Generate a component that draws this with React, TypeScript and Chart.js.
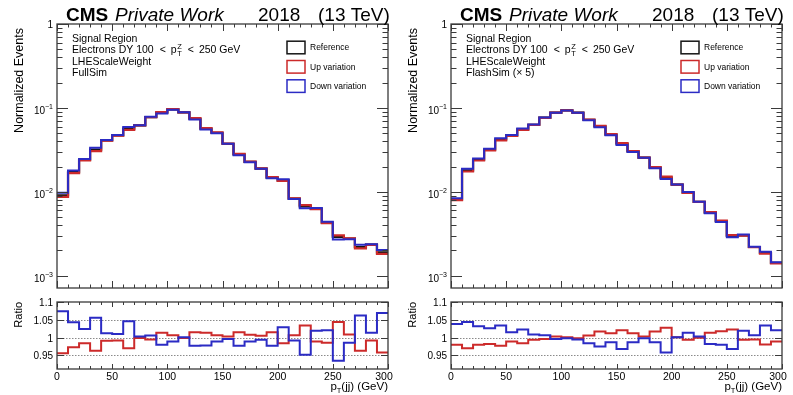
import React, { useEffect, useRef } from 'react';
import { Chart, registerables } from 'chart.js';

Chart.register(...registerables);

// ---------------- DATA ----------------
const binEdges = [0, 10, 20, 30, 40, 50, 60, 70, 80, 90, 100, 110, 120, 130, 140, 150, 160, 170, 180, 190, 200, 210, 220, 230, 240, 250, 260, 270, 280, 290, 300];
const xTickLabels = ['0', '50', '100', '150', '200', '250', '300'];
const xTickValues = [0, 50, 100, 150, 200, 250, 300];
const ratioTickLabels = ['0.95', '1', '1.05', '1.1'];
const ratioTickValues = [0.95, 1, 1.05, 1.1];
const ratioGridValues = [0.95, 1, 1.05];
const logDecades = [-3, -2, -1, 0];

// FullSim (left)
const fullRef = [0.0091, 0.0172, 0.0241, 0.0318, 0.041, 0.047, 0.0565, 0.062, 0.0778, 0.0877, 0.096, 0.0884, 0.0743, 0.0565, 0.0506, 0.0374, 0.0279, 0.0227, 0.0189, 0.0148, 0.0137, 0.0083, 0.0067, 0.0063, 0.0043, 0.0029, 0.00277, 0.0022, 0.00235, 0.0019];
const fullUp = [0.0087, 0.0167, 0.0237, 0.0306, 0.0406, 0.0466, 0.0548, 0.0619, 0.0774, 0.0889, 0.0967, 0.0883, 0.0754, 0.0573, 0.051, 0.0375, 0.0283, 0.0229, 0.019, 0.015, 0.0135, 0.00836, 0.00693, 0.00623, 0.00424, 0.00303, 0.00279, 0.00212, 0.00233, 0.00182];
const fullDown = [0.00977, 0.01794, 0.02468, 0.03358, 0.04149, 0.04747, 0.0591, 0.0622, 0.0783, 0.0859, 0.0949, 0.0885, 0.0726, 0.0553, 0.05, 0.0373, 0.0273, 0.0225, 0.0188, 0.0145, 0.0141, 0.00823, 0.00638, 0.00642, 0.00439, 0.00271, 0.00273, 0.00234, 0.00238, 0.00203];
const fullRatioUp = [0.956, 0.973, 0.984, 0.963, 0.991, 0.992, 0.97, 0.999, 0.995, 1.014, 1.007, 0.999, 1.015, 1.014, 1.007, 1.003, 1.015, 1.008, 1.005, 1.015, 0.984, 1.007, 1.034, 0.989, 0.986, 1.044, 1.009, 0.963, 0.992, 0.958];
const fullRatioDown = [1.074, 1.043, 1.024, 1.056, 1.012, 1.01, 1.046, 1.003, 1.006, 0.98, 0.989, 1.001, 0.977, 0.978, 0.989, 0.996, 0.977, 0.989, 0.994, 0.977, 1.029, 0.992, 0.952, 1.019, 1.021, 0.935, 0.986, 1.062, 1.014, 1.069];

// FlashSim (right)
const flashRef = [0.0081, 0.018, 0.0241, 0.0318, 0.042, 0.047, 0.0555, 0.063, 0.0764, 0.0877, 0.0933, 0.0877, 0.0723, 0.0602, 0.048, 0.0374, 0.0303, 0.0255, 0.0194, 0.0148, 0.0122, 0.0098, 0.0076, 0.00565, 0.00446, 0.00298, 0.00303, 0.0022, 0.00187, 0.00142];
const flashUp = [0.00794, 0.01746, 0.02362, 0.03123, 0.04103, 0.04648, 0.05461, 0.06262, 0.07609, 0.08796, 0.09339, 0.08752, 0.07273, 0.06122, 0.04858, 0.03819, 0.03066, 0.02558, 0.01973, 0.01521, 0.01221, 0.00974, 0.0076, 0.00573, 0.00454, 0.00305, 0.00301, 0.00219, 0.00183, 0.0014];
const flashDown = [0.00841, 0.01879, 0.02487, 0.03263, 0.04343, 0.04771, 0.05678, 0.06357, 0.07693, 0.08735, 0.09311, 0.08726, 0.07114, 0.0587, 0.04738, 0.0362, 0.02991, 0.02545, 0.01915, 0.01418, 0.01221, 0.00994, 0.00762, 0.00555, 0.00437, 0.00288, 0.00309, 0.00222, 0.00193, 0.00145];
const flashRatioUp = [0.98, 0.97, 0.98, 0.982, 0.977, 0.989, 0.984, 0.994, 0.996, 1.003, 1.001, 0.998, 1.006, 1.017, 1.012, 1.021, 1.012, 1.003, 1.017, 1.028, 1.001, 0.994, 1.0, 1.014, 1.018, 1.023, 0.994, 0.995, 0.981, 0.989];
const flashRatioDown = [1.038, 1.044, 1.032, 1.026, 1.034, 1.015, 1.023, 1.009, 1.007, 0.996, 0.998, 0.995, 0.984, 0.975, 0.987, 0.968, 0.987, 0.998, 0.987, 0.958, 1.001, 1.014, 1.003, 0.982, 0.98, 0.968, 1.019, 1.007, 1.034, 1.021];

const legendLabels = ['Reference', 'Up variation', 'Down variation'];
const infoLinesLeft = ['Signal Region', 'ELECTRONS', 'LHEScaleWeight', 'FullSim'];
const infoLinesRight = ['Signal Region', 'ELECTRONS', 'LHEScaleWeight', 'FlashSim (\u00d7 5)'];

// ---------------- LAYOUT / STYLE ----------------
const W = 793;
const H = 395;
const MAIN_TOP = 24;
const MAIN_BOTTOM = 288;
const RATIO_TOP = 302;
const RATIO_BOTTOM = 369;
const PANEL_LEFT = [57, 451];
const PANEL_RIGHT = [388, 782];
const LOG_MIN = 7.14e-4;
const LOG_MAX = 1;
const RATIO_MIN = 0.912;
const RATIO_MAX = 1.1;
const FONT = '"Liberation Sans", Arial, Helvetica, sans-serif';
const COL_REF = '#151515';
const COL_UP = '#cc2a2a';
const COL_DOWN = '#2b2bc4';
const COL_FRAME = '#3a3a3a';

function histPoints(values: number[]) {
  const pts = values.map((v, i) => ({ x: binEdges[i], y: v }));
  pts.push({ x: binEdges[binEdges.length - 1], y: values[values.length - 1] });
  return pts;
}

function text(ctx: CanvasRenderingContext2D, s: string, x: number, y: number, font: string, align: CanvasTextAlign = 'left', baseline: CanvasTextBaseline = 'alphabetic', color = '#000') {
  ctx.font = font;
  ctx.textAlign = align;
  ctx.textBaseline = baseline;
  ctx.fillStyle = color;
  ctx.fillText(s, x, y);
}

function drawFrame(ctx: CanvasRenderingContext2D, a: any) {
  ctx.save();
  ctx.strokeStyle = COL_FRAME;
  ctx.lineWidth = 1.3;
  ctx.strokeRect(a.left, a.top, a.right - a.left, a.bottom - a.top);
  ctx.restore();
}

function vTick(ctx: CanvasRenderingContext2D, x: number, y0: number, len: number) {
  ctx.beginPath();
  ctx.moveTo(x, y0);
  ctx.lineTo(x, y0 + len);
  ctx.stroke();
}
function hTick(ctx: CanvasRenderingContext2D, y: number, x0: number, len: number) {
  ctx.beginPath();
  ctx.moveTo(x0, y);
  ctx.lineTo(x0 + len, y);
  ctx.stroke();
}

function drawXTicks(ctx: CanvasRenderingContext2D, chart: any, major: number, minor: number) {
  const a = chart.chartArea;
  const xs = chart.scales.x;
  ctx.save();
  ctx.strokeStyle = COL_FRAME;
  ctx.lineWidth = 1;
  for (let v = 0; v <= 300; v += 10) {
    const px = Math.round(xs.getPixelForValue(v)) + 0.5;
    const len = v % 50 === 0 ? major : minor;
    vTick(ctx, px, a.bottom, -len);
    vTick(ctx, px, a.top, len);
  }
  ctx.restore();
}

function mainDecor(side: number) {
  return {
    id: 'mainDecor' + side,
    afterDraw(chart: any) {
      const ctx: CanvasRenderingContext2D = chart.ctx;
      const a = chart.chartArea;
      const ys = chart.scales.y;
      const L = a.left;
      ctx.save();
      drawFrame(ctx, a);
      drawXTicks(ctx, chart, 7, 3.5);
      // log y ticks
      ctx.strokeStyle = COL_FRAME;
      ctx.lineWidth = 1;
      for (const d of logDecades) {
        for (let k = 1; k <= 9; k++) {
          const v = k * Math.pow(10, d);
          if (v < LOG_MIN || v > LOG_MAX) continue;
          const py = Math.round(ys.getPixelForValue(v)) + 0.5;
          const len = k === 1 ? 11 : 5.5;
          hTick(ctx, py, a.left, len);
          hTick(ctx, py, a.right, -len);
        }
      }
      // y tick labels
      for (const d of logDecades) {
        const py = ys.getPixelForValue(Math.pow(10, d));
        if (d === 0) {
          text(ctx, '1', L - 4, py + 1, `10px ${FONT}`, 'right', 'middle');
        } else {
          ctx.font = `7px ${FONT}`;
          const sup = '\u2212' + String(-d);
          const wSup = ctx.measureText(sup).width;
          text(ctx, sup, L - 4, py - 1, `7px ${FONT}`, 'right', 'middle');
          text(ctx, '10', L - 4 - wSup, py + 3.5, `10px ${FONT}`, 'right', 'middle');
        }
      }
      // y axis title
      ctx.save();
      ctx.translate(L - 37, 28);
      ctx.rotate(-Math.PI / 2);
      text(ctx, 'Normalized Events', 0, 0, `12.5px ${FONT}`, 'right', 'middle');
      ctx.restore();
      // CMS header
      const base = 21;
      text(ctx, 'CMS', L + 9, base, `bold 19px ${FONT}`);
      text(ctx, 'Private Work', L + 58, base, `italic 19px ${FONT}`);
      text(ctx, '2018', L + 201, base, `19px ${FONT}`);
      text(ctx, '(13 TeV)', L + 261, base, `19px ${FONT}`);
      // info text
      const lines = side === 0 ? infoLinesLeft : infoLinesRight;
      const tx = L + 15;
      const bl = [41.8, 53.3, 64.8, 76.3];
      const f = `10.5px ${FONT}`;
      const fs = `7.5px ${FONT}`;
      lines.forEach((ln, i) => {
        if (ln === 'ELECTRONS') {
          const y = bl[i];
          let x = tx;
          const seg = (s: string, gapAfter: number) => {
            text(ctx, s, x, y, f);
            ctx.font = f;
            x += ctx.measureText(s).width + gapAfter;
          };
          seg('Electrons DY 100', 6);
          seg('<', 5);
          seg('p', 0.5);
          text(ctx, 'Z', x, y - 4.5, fs);
          text(ctx, 'T', x, y + 2.5, fs);
          ctx.font = fs;
          x += ctx.measureText('Z').width + 6;
          seg('<', 5);
          seg('250 GeV', 0);
        } else {
          text(ctx, ln, tx, bl[i], f);
        }
      });
      // legend
      const cols = [COL_REF, COL_UP, COL_DOWN];
      const centers = [47.5, 66.8, 86.1];
      legendLabels.forEach((lab, i) => {
        ctx.strokeStyle = cols[i];
        ctx.lineWidth = 1.5;
        ctx.strokeRect(L + 230, centers[i] - 6.3, 18, 12.6);
        text(ctx, lab, L + 253, centers[i] + 0.5, `8.5px ${FONT}`, 'left', 'middle');
      });
      ctx.restore();
    },
  };
}

function ratioDecor(side: number) {
  return {
    id: 'ratioDecor' + side,
    beforeDatasetsDraw(chart: any) {
      const ctx: CanvasRenderingContext2D = chart.ctx;
      const a = chart.chartArea;
      const ys = chart.scales.y;
      ctx.save();
      ctx.strokeStyle = '#8a8a8a';
      ctx.lineWidth = 1;
      ctx.setLineDash([1.5, 1.5]);
      for (const v of ratioGridValues) {
        const py = Math.round(ys.getPixelForValue(v)) + 0.5;
        ctx.beginPath();
        ctx.moveTo(a.left, py);
        ctx.lineTo(a.right, py);
        ctx.stroke();
      }
      ctx.restore();
    },
    afterDraw(chart: any) {
      const ctx: CanvasRenderingContext2D = chart.ctx;
      const a = chart.chartArea;
      const xs = chart.scales.x;
      const ys = chart.scales.y;
      const L = a.left;
      ctx.save();
      drawFrame(ctx, a);
      drawXTicks(ctx, chart, 5, 3);
      ctx.strokeStyle = COL_FRAME;
      ctx.lineWidth = 1;
      ratioTickValues.forEach((v, i) => {
        const py = Math.round(ys.getPixelForValue(v)) + 0.5;
        hTick(ctx, py, a.left, 7);
        hTick(ctx, py, a.right, -7);
        text(ctx, ratioTickLabels[i], L - 4, py + 0.5, `10px ${FONT}`, 'right', 'middle');
      });
      xTickValues.forEach((v, i) => {
        let px = xs.getPixelForValue(v);
        if (i === xTickValues.length - 1) px -= 4;
        text(ctx, xTickLabels[i], px, 377, `10.5px ${FONT}`, 'center', 'middle');
      });
      // y title
      ctx.save();
      ctx.translate(L - 38, RATIO_TOP);
      ctx.rotate(-Math.PI / 2);
      text(ctx, 'Ratio', 0, 0, `11px ${FONT}`, 'right', 'middle');
      ctx.restore();
      // x title  p_T(jj) (GeV), right aligned
      const f = `11.5px ${FONT}`;
      const fs = `7.5px ${FONT}`;
      ctx.font = f;
      const wP = ctx.measureText('p').width;
      const rest = '(jj) (GeV)';
      const wRest = ctx.measureText(rest).width;
      ctx.font = fs;
      const wT = ctx.measureText('T').width;
      const total = wP + wT + wRest;
      const x0 = a.right - total;
      const by = 390;
      text(ctx, 'p', x0, by, f);
      text(ctx, 'T', x0 + wP, by + 2.5, fs);
      text(ctx, rest, x0 + wP + wT, by, f);
      ctx.restore();
    },
  };
}

function baseOptions(side: number, top: number, bottom: number, yScale: any) {
  return {
    animation: false,
    responsive: false,
    maintainAspectRatio: false,
    devicePixelRatio: 1,
    events: [],
    layout: {
      padding: { left: PANEL_LEFT[side], right: W - PANEL_RIGHT[side], top, bottom: H - bottom },
    },
    elements: { point: { radius: 0 } },
    plugins: { legend: { display: false }, tooltip: { enabled: false }, title: { display: false } },
    scales: {
      x: { type: 'linear', min: 0, max: 300, display: false },
      y: yScale,
    },
  };
}

function ds(values: number[], color: string, width: number) {
  return {
    data: histPoints(values),
    borderColor: color,
    borderWidth: width,
    stepped: 'before',
    fill: false,
    pointRadius: 0,
    tension: 0,
  };
}

function ChartCanvas({ build }: { build: (c: HTMLCanvasElement) => Chart }) {
  const ref = useRef<HTMLCanvasElement | null>(null);
  useEffect(() => {
    if (!ref.current) return;
    const ch = build(ref.current);
    return () => ch.destroy();
  }, []);
  return (
    <canvas
      ref={ref}
      width={W}
      height={H}
      style={{ position: 'absolute', left: 0, top: 0, width: W, height: H }}
    />
  );
}

export default function App() {
  const sides = [
    { ref: fullRef, up: fullUp, down: fullDown, rUp: fullRatioUp, rDown: fullRatioDown },
    { ref: flashRef, up: flashUp, down: flashDown, rUp: flashRatioUp, rDown: flashRatioDown },
  ];
  const builders: ((c: HTMLCanvasElement) => Chart)[] = [];
  sides.forEach((s, side) => {
    builders.push((c) =>
      new Chart(c, {
        type: 'line',
        data: { datasets: [ds(s.down, COL_DOWN, 2), ds(s.up, COL_UP, 2.2), ds(s.ref, COL_REF, 2.2)] as any },
        options: baseOptions(side, MAIN_TOP, MAIN_BOTTOM, { type: 'logarithmic', min: LOG_MIN, max: LOG_MAX, display: false }) as any,
        plugins: [mainDecor(side)],
      })
    );
    builders.push((c) =>
      new Chart(c, {
        type: 'line',
        data: { datasets: [ds(s.rDown, COL_DOWN, 2), ds(s.rUp, COL_UP, 2)] as any },
        options: baseOptions(side, RATIO_TOP, RATIO_BOTTOM, { type: 'linear', min: RATIO_MIN, max: RATIO_MAX, display: false }) as any,
        plugins: [ratioDecor(side)],
      })
    );
  });
  return (
    <div style={{ position: 'absolute', left: 0, top: 0, width: W, height: H, background: '#fff', overflow: 'hidden' }}>
      {builders.map((b, i) => (
        <ChartCanvas key={i} build={b} />
      ))}
    </div>
  );
}
